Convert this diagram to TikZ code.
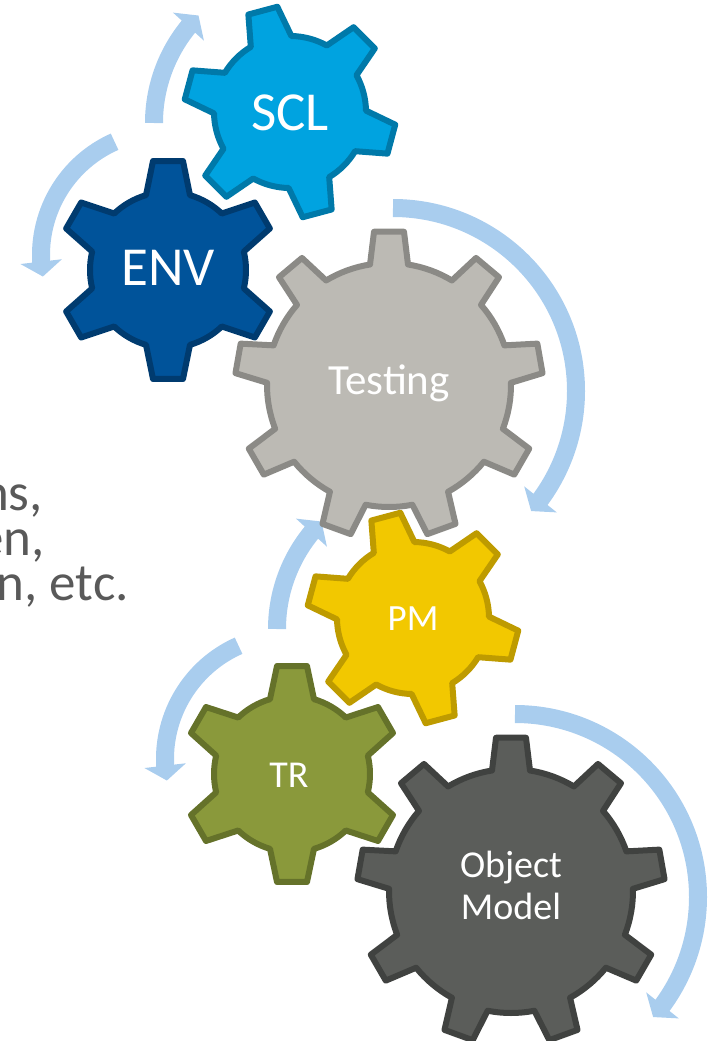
\documentclass[tikz,border=0pt]{standalone}
\usepackage{fontspec}
\setmainfont{Carlito}
\usepackage{xcolor}
\usepackage{tikz}
\usetikzlibrary{arrows.meta, bending, calc}

\definecolor{sclfill}{HTML}{00A3E0}
\definecolor{sclline}{HTML}{0079A9}
\definecolor{envfill}{HTML}{00539A}
\definecolor{envline}{HTML}{003B6F}
\definecolor{testfill}{HTML}{BCBAB4}
\definecolor{testline}{HTML}{8B8A86}
\definecolor{pmfill}{HTML}{F2C800}
\definecolor{pmline}{HTML}{BE9B00}
\definecolor{trfill}{HTML}{8A993B}
\definecolor{trline}{HTML}{65722A}
\definecolor{omfill}{HTML}{5B5D5A}
\definecolor{omline}{HTML}{404240}
\definecolor{cycleblue}{HTML}{A9CDEE}
\definecolor{notegray}{HTML}{595959}

% cog: centre, teeth, first tooth angle, root radius, tip radius, root half width, style
\newcommand{\cog}[7]{%
  \pgfmathsetmacro{\cstep}{360/#2}%
  \pgfmathsetmacro{\croot}{asin(#6/#4)}%
  \pgfmathsetmacro{\ctip}{asin(15/#5)}%
  \draw[#7, shift={(#1)}] ({#3-\croot}:#4pt)
    \foreach \k [evaluate=\k as \a using #3+(\k-1)*\cstep] in {1,...,#2} {
      -- ({\a-\ctip}:#5pt) -- ({\a+\ctip}:#5pt) -- ({\a+\croot}:#4pt)
      arc[start angle={\a+\croot}, end angle={\a+\cstep-\croot}, radius=#4pt]
    } -- cycle;
}

\begin{document}
\begin{tikzpicture}[
    x=1pt, y=1pt,
    cogline/.style={line width=6pt, line join=round},
    cycle/.style={
      draw=cycleblue,
      line width=18pt,
      -{Triangle[length=15pt 0 0, width=41pt 0 0]}
    },
    coglabel/.style={text=white, inner sep=0pt, text depth=0pt, align=center},
    note/.style={
      text=notegray,
      inner sep=0pt,
      anchor=base east,
      text height=0.6em,
      text depth=0pt,
      font=\fontsize{53}{45}\selectfont
    }
]
\useasboundingbox (0,0) rectangle (708,-1041);

% gear centres
\coordinate (scl) at (290,-112);
\coordinate (env) at (168,-270);
\coordinate (testing) at (389,-385);
\coordinate (pm) at (413,-618);
\coordinate (tr) at (292,-774);
\coordinate (om) at (511,-891);

% curved arrows around the gears
\draw[cycle] ($(scl)+(16-152,-11)$) arc[start angle=180, end angle=135, radius=152pt];
\draw[cycle] ($(env)+(-3,15)+(114:124pt)$) arc[start angle=114, end angle=190, radius=124pt];
\draw[cycle] ($(testing)+(4,-6+183)$) arc[start angle=90, end angle=-41, radius=183pt];
\draw[cycle] ($(pm)+(16-152,-11)$) arc[start angle=180, end angle=135, radius=152pt];
\draw[cycle] ($(tr)+(-3,15)+(114:124pt)$) arc[start angle=114, end angle=190, radius=124pt];
\draw[cycle] ($(om)+(4,-6+183)$) arc[start angle=90, end angle=-41, radius=183pt];

% gears
\cog{scl}{6}{45}{76}{106}{21}{cogline, fill=sclfill, draw=sclline}
\cog{env}{6}{30}{78}{110}{22}{cogline, fill=envfill, draw=envline}
\cog{testing}{9}{10}{122}{154}{19}{cogline, fill=testfill, draw=testline}
\cog{pm}{6}{45}{76}{106}{21}{cogline, fill=pmfill, draw=pmline}
\cog{tr}{6}{30}{78}{109}{22}{cogline, fill=trfill, draw=trline}
\cog{om}{9}{10}{122}{154}{19}{cogline, fill=omfill, draw=omline}

% labels
\node[coglabel, font=\fontsize{55}{64}\selectfont] (sclText) at ($(scl)+(0,-1)$) {SCL};
\node[coglabel, font=\fontsize{55}{64}\selectfont] (envText) at ($(env)+(0,2)$) {ENV};
\node[coglabel, font=\fontsize{43}{50}\selectfont] (testingText) at ($(testing)+(0,5)$) {Testing};
\node[coglabel, font=\fontsize{37}{44}\selectfont] (pmText) at ($(pm)+(0,-1)$) {PM};
\node[coglabel, font=\fontsize{38}{44}\selectfont] (trText) at ($(tr)+(-3,-1)$) {TR};
\node[font=\fontsize{38}{42}\selectfont, text=white, align=center, inner sep=0pt] (omText) at ($(om)+(0,6)$) {Object\\Model};

% text running in from the left
\node[note] (noteA) at (43,-510) {ns,};
\node[note] (noteB) at (45,-555) {en,};
\node[note] (noteC) at (129,-600) {n, etc.};
\end{tikzpicture}
\end{document}
